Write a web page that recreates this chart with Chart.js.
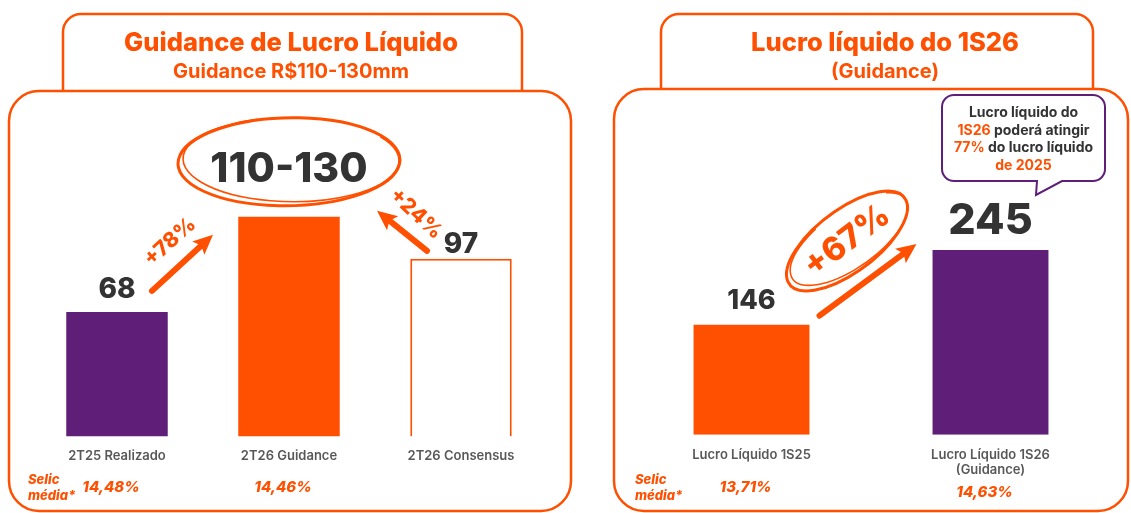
<!DOCTYPE html>
<html lang="pt-BR">
<head>
<meta charset="utf-8">
<script src="https://cdn.jsdelivr.net/npm/chart.js"></script>
<style>
  html, body { margin: 0; background: #fff; }
  #wrap { position: relative; width: 1131px; height: 513px; overflow: hidden; }
  #boxLeft { position: absolute; left: 0; top: 0; }
  #boxRight { position: absolute; left: 590px; top: 0; }
</style>
</head>
<body>
<div id="wrap">
  <div id="boxLeft"><canvas id="chartLeft" width="590" height="513"></canvas></div>
  <div id="boxRight"><canvas id="chartRight" width="541" height="513"></canvas></div>
</div>
<script>
const ORANGE = '#fe5000';
const PURPLE = '#5f1f78';
const DARK = '#333333';
const GREY = '#585858';
const FONT = 'Inter, "Noto Sans", sans-serif';

// painel da esquerda
const leftCategories = ['2T25 Realizado', '2T26 Guidance', '2T26 Consensus'];
const leftValues = [68, 120, 97];
const leftValueLabels = ['68', '110-130', '97'];
const leftSelic = ['14,48%', '14,46%', ''];
const leftGrowth = ['+78%', '+24%'];
const leftTitle = ['Guidance de Lucro Líquido', 'Guidance R$110-130mm'];

// painel da direita
const rightCategories = ['Lucro Líquido 1S25', ['Lucro Líquido 1S26', '(Guidance)']];
const rightValues = [146, 245];
const rightValueLabels = ['146', '245'];
const rightSelic = ['13,71%', '14,63%'];
const rightGrowth = ['+67%'];
const rightTitle = ['Lucro líquido do 1S26', '(Guidance)'];
const calloutLines = [
    [['Lucro líquido do', DARK]],
    [['1S26', ORANGE], [' poderá atingir', DARK]],
    [['77%', ORANGE], [' do lucro líquido', DARK]],
    [['de 2025', ORANGE]]
];

function titleBox(ctx, x0, x1, y0, y1, r) {
    ctx.beginPath();
    ctx.moveTo(x0, y1);
    ctx.lineTo(x0, y0 + r);
    ctx.arcTo(x0, y0, x0 + r, y0, r);
    ctx.lineTo(x1 - r, y0);
    ctx.arcTo(x1, y0, x1, y0 + r, r);
    ctx.lineTo(x1, y1);
    ctx.stroke();
}

function drawFrame(ctx, p, titles) {
    ctx.save();
    ctx.strokeStyle = ORANGE;
    ctx.lineWidth = 2.5;
    titleBox(ctx, p.tx0, p.tx1, 14, p.top, 18);
    ctx.beginPath();
    ctx.roundRect(p.x0, p.top, p.x1 - p.x0, 511 - p.top, 30);
    ctx.stroke();
    ctx.fillStyle = ORANGE;
    ctx.textAlign = 'center';
    ctx.font = '800 25.5px ' + FONT;
    ctx.fillText(titles[0], p.cx, 51);
    ctx.font = '700 20px ' + FONT;
    ctx.fillText(titles[1], p.cx, 78);
    ctx.restore();
}

function arrow(ctx, x0, y0, x1, y1) {
    const a = Math.atan2(y1 - y0, x1 - x0);
    const len = Math.hypot(x1 - x0, y1 - y0);
    ctx.save();
    ctx.translate(x0, y0);
    ctx.rotate(a);
    ctx.fillStyle = ORANGE;
    ctx.strokeStyle = ORANGE;
    ctx.lineWidth = 6;
    ctx.lineCap = 'round';
    ctx.beginPath();
    ctx.moveTo(0, 0);
    ctx.lineTo(len - 14, 0);
    ctx.stroke();
    ctx.beginPath();
    ctx.moveTo(len, 0);
    ctx.lineTo(len - 20, -9);
    ctx.lineTo(len - 16, 0);
    ctx.lineTo(len - 20, 9);
    ctx.closePath();
    ctx.fill();
    ctx.restore();
}

function rotatedText(ctx, text, x, y, deg, font) {
    ctx.save();
    ctx.translate(x, y);
    ctx.rotate(deg * Math.PI / 180);
    ctx.fillStyle = ORANGE;
    ctx.font = font;
    ctx.textAlign = 'center';
    ctx.textBaseline = 'middle';
    ctx.fillText(text, 0, 0);
    ctx.restore();
}

function sketchEllipse(ctx, cx, cy, rx, ry, rot) {
    ctx.save();
    ctx.strokeStyle = ORANGE;
    ctx.lineWidth = 3;
    ctx.beginPath();
    ctx.ellipse(cx, cy, rx, ry, rot, 0.1, Math.PI * 2 + 0.25);
    ctx.stroke();
    ctx.lineWidth = 1.6;
    ctx.beginPath();
    ctx.ellipse(cx + 2, cy - 2, rx - 3, ry - 2, rot + 0.03, -0.6, Math.PI * 1.4);
    ctx.stroke();
    ctx.restore();
}

function valueLabels(ctx, meta, labels, sizes, gaps) {
    ctx.save();
    ctx.fillStyle = DARK;
    ctx.textAlign = 'center';
    meta.data.forEach((bar, i) => {
        ctx.font = '800 ' + sizes[i] + 'px ' + FONT;
        ctx.fillText(labels[i], bar.x, bar.y - gaps[i]);
    });
    ctx.restore();
}

function selic(ctx, meta, x, vals, baselines) {
    ctx.save();
    ctx.fillStyle = ORANGE;
    ctx.font = 'italic 800 13px ' + FONT;
    ctx.fillText('Selic', x, baselines[0] - 8);
    ctx.fillText('média*', x, baselines[0] + 8);
    ctx.font = 'italic 800 15px ' + FONT;
    ctx.textAlign = 'center';
    meta.data.forEach((bar, i) => {
        ctx.fillText(vals[i], bar.x - 6, baselines[i]);
    });
    ctx.restore();
}

const leftDeco = {
    id: 'leftDeco',
    beforeDraw(chart) {
        drawFrame(chart.ctx, { x0: 9, x1: 571, tx0: 63, tx1: 522, top: 91, cx: 291 }, leftTitle);
    },
    afterDatasetsDraw(chart) {
        const ctx = chart.ctx;
        const meta = chart.getDatasetMeta(0);
        const b = meta.data;
        valueLabels(ctx, meta, leftValueLabels, [28, 41, 28], [14, 35, 6]);
        sketchEllipse(ctx, b[1].x, b[1].y - 55, 111, 44, -0.02);
        arrow(ctx, b[0].x + 35, b[0].y - 21, b[1].x - 76, b[1].y + 18);
        arrow(ctx, b[2].x - 34, b[2].y - 8, b[1].x + 88, b[1].y - 6);
        rotatedText(ctx, leftGrowth[0], b[0].x + 53, b[0].y - 70, -42, '800 21px ' + FONT);
        rotatedText(ctx, leftGrowth[1], b[2].x - 45, b[2].y - 45, 43, '800 21px ' + FONT);
        selic(ctx, meta, 28, leftSelic, [492, 492, 492]);
    }
};

const rightDeco = {
    id: 'rightDeco',
    beforeDraw(chart) {
        drawFrame(chart.ctx, { x0: 24, x1: 538, tx0: 71, tx1: 503, top: 89, cx: 295 }, rightTitle);
    },
    afterDatasetsDraw(chart) {
        const ctx = chart.ctx;
        const meta = chart.getDatasetMeta(0);
        const b = meta.data;
        valueLabels(ctx, meta, rightValueLabels, [27, 43], [16, 16]);
        arrow(ctx, b[0].x + 68, b[0].y - 9, b[1].x - 74, b[1].y - 6);
        const cx = (b[0].x + b[1].x) / 2 - 24, cy = b[1].y - 9;
        sketchEllipse(ctx, cx, cy, 72, 31, -37 * Math.PI / 180);
        rotatedText(ctx, rightGrowth[0], cx, cy, -37, '800 33px ' + FONT);

        // balão
        ctx.save();
        ctx.strokeStyle = PURPLE;
        ctx.fillStyle = '#fff';
        ctx.lineWidth = 2;
        const bx0 = 352, bx1 = 515, by0 = 95, by1 = 181, r = 12;
        ctx.beginPath();
        ctx.moveTo(bx0 + r, by0);
        ctx.arcTo(bx1, by0, bx1, by1, r);
        ctx.arcTo(bx1, by1, bx0, by1, r);
        ctx.lineTo(472, by1);
        ctx.lineTo(446, 195);
        ctx.lineTo(447, by1);
        ctx.arcTo(bx0, by1, bx0, by0, r);
        ctx.arcTo(bx0, by0, bx1, by0, r);
        ctx.closePath();
        ctx.fill();
        ctx.stroke();
        ctx.font = '700 14px ' + FONT;
        const mid = (bx0 + bx1) / 2;
        calloutLines.forEach((line, i) => {
            const w = line.reduce((s, p) => s + ctx.measureText(p[0]).width, 0);
            let x = mid - w / 2;
            line.forEach(p => {
                ctx.fillStyle = p[1];
                ctx.fillText(p[0], x, 117 + i * 17.5);
                x += ctx.measureText(p[0]).width;
            });
        });
        ctx.restore();

        selic(ctx, meta, 45, rightSelic, [492, 497]);
    }
};

function xAxis() {
    return {
        grid: { display: false, drawTicks: false },
        border: { display: false },
        ticks: {
            color: GREY,
            padding: 12,
            autoSkip: false,
            maxRotation: 0,
            font: { family: FONT, size: 13, weight: '600' }
        }
    };
}

new Chart(document.getElementById('chartLeft'), {
    type: 'bar',
    data: {
        labels: leftCategories,
        datasets: [{
            data: leftValues,
            backgroundColor: [PURPLE, ORANGE, '#ffffff'],
            borderColor: [PURPLE, ORANGE, ORANGE],
            borderWidth: [0, 0, 2],
            categoryPercentage: 1,
            barPercentage: 0.59
        }]
    },
    options: {
        responsive: false,
        animation: false,
        layout: { padding: { left: 31, right: 43, top: 105, bottom: 37 } },
        plugins: { legend: { display: false }, tooltip: { enabled: false } },
        scales: {
            x: xAxis(),
            y: { display: false, min: 0, max: 181 }
        }
    },
    plugins: [leftDeco]
});

new Chart(document.getElementById('chartRight'), {
    type: 'bar',
    data: {
        labels: rightCategories,
        datasets: [{
            data: rightValues,
            backgroundColor: [ORANGE, PURPLE],
            borderWidth: 0,
            categoryPercentage: 1,
            barPercentage: 0.485
        }]
    },
    options: {
        responsive: false,
        animation: false,
        layout: { padding: { left: 42, right: 21, top: 100, bottom: 23 } },
        plugins: { legend: { display: false }, tooltip: { enabled: false } },
        scales: {
            x: xAxis(),
            y: { display: false, min: 0, max: 444 }
        }
    },
    plugins: [rightDeco]
});
</script>
</body>
</html>
